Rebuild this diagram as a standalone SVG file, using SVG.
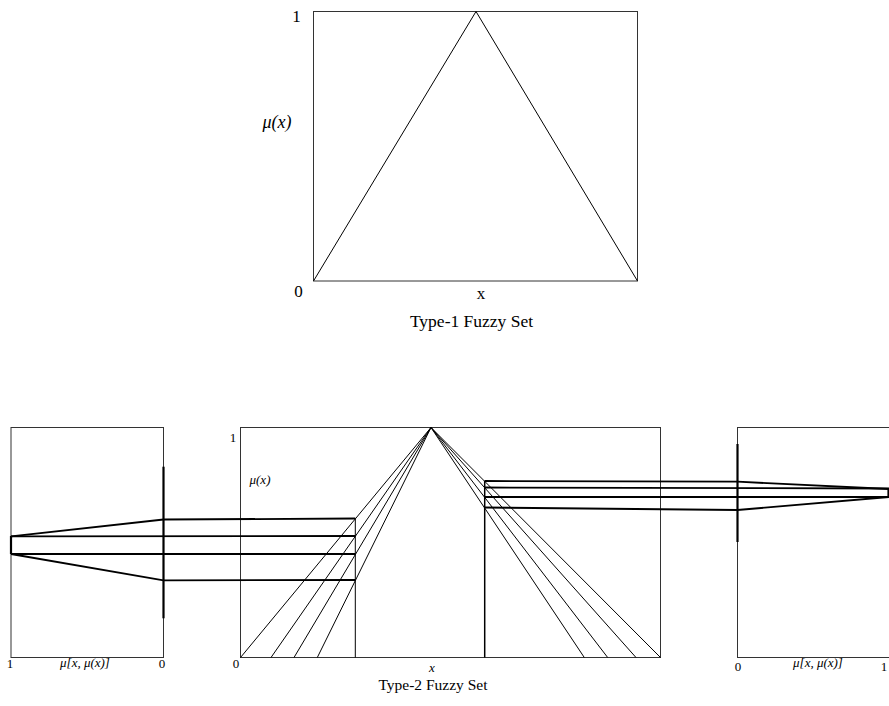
<svg xmlns="http://www.w3.org/2000/svg" width="889" height="706" viewBox="0 0 889 706">
<style>
.frame{fill:none;stroke:#333;stroke-width:1}
.thin{fill:none;stroke:#000;stroke-width:1}
.bold{fill:none;stroke:#000;stroke-width:1.8}
.tick{fill:none;stroke:#000;stroke-width:2.2}
text{font-family:"Liberation Serif","DejaVu Serif",serif;fill:#000}
.it{font-style:italic}
</style>
<rect width="889" height="706" fill="#fff"/>
<g id="type1">
<rect class="frame" x="313.5" y="11.5" width="324" height="269.5"/>
<polyline class="thin" points="313.5,281 476,11.5 637.5,281"/>
<text x="296.5" y="22" font-size="17" text-anchor="middle">1</text>
<text x="298.5" y="297" font-size="17" text-anchor="middle">0</text>
<text class="it" x="277" y="128" font-size="18" text-anchor="middle">μ(x)</text>
<text x="481" y="299" font-size="17" text-anchor="middle">x</text>
<text x="471.5" y="327" font-size="17.5" text-anchor="middle">Type-1 Fuzzy Set</text>
</g>
<g id="left-panel">
<rect class="frame" x="11" y="427.5" width="152.5" height="230"/>
<line class="tick" x1="163.5" y1="466.7" x2="163.5" y2="618.3"/>
<line class="tick" x1="11" y1="536" x2="11" y2="554"/>
<text x="10" y="668" font-size="13" text-anchor="middle">1</text>
<text class="it" x="85" y="667" font-size="13" text-anchor="middle">μ[x, μ(x)]</text>
<text x="162" y="668" font-size="13" text-anchor="middle">0</text>
</g>
<g id="middle-panel">
<rect class="frame" x="240.5" y="427.5" width="420" height="230"/>
<g class="thin">
<line x1="431" y1="427.5" x2="240.5" y2="657.5"/>
<line x1="431" y1="427.5" x2="271" y2="657.5"/>
<line x1="431" y1="427.5" x2="294" y2="657.5"/>
<line x1="431" y1="427.5" x2="317.3" y2="657.5"/>
<line x1="431" y1="427.5" x2="584.3" y2="657.5"/>
<line x1="431" y1="427.5" x2="607.7" y2="657.5"/>
<line x1="431" y1="427.5" x2="636" y2="657.5"/>
<line x1="431" y1="427.5" x2="660.5" y2="657.5"/>
<line x1="355.3" y1="518.5" x2="355.3" y2="657.5"/>
</g>
<line x1="484.7" y1="480.8" x2="484.7" y2="657.5" stroke="#000" stroke-width="1.5"/>
<text x="233" y="442" font-size="13" text-anchor="middle">1</text>
<text x="236" y="668" font-size="13" text-anchor="middle">0</text>
<text class="it" x="260" y="484" font-size="13" text-anchor="middle">μ(x)</text>
<text class="it" x="432" y="672" font-size="13" text-anchor="middle">x</text>
<text x="433" y="690" font-size="15.5" text-anchor="middle">Type-2 Fuzzy Set</text>
</g>
<g id="right-panel">
<rect class="frame" x="737.5" y="427.5" width="152" height="230"/>
<line class="tick" x1="737.5" y1="444" x2="737.5" y2="542"/>
<line class="tick" x1="888.5" y1="488.5" x2="888.5" y2="497"/>
<text x="738" y="671" font-size="13" text-anchor="middle">0</text>
<text class="it" x="818" y="667" font-size="13" text-anchor="middle">μ[x, μ(x)]</text>
<text x="884" y="671" font-size="13" text-anchor="middle">1</text>
</g>
<g id="connectors" class="bold">
<polyline points="355.3,518.5 163.5,519.5 11,536.3"/>
<line x1="355.3" y1="536" x2="11" y2="536.3"/>
<line x1="355.3" y1="554" x2="11" y2="554"/>
<polyline points="355.3,580 163.5,580.3 11,554"/>
<polyline points="484.7,481 737.5,481.7 889,489"/>
<line x1="484.7" y1="487.5" x2="889" y2="488.5"/>
<line x1="484.7" y1="497" x2="889" y2="497"/>
<polyline points="484.7,507.5 737.5,510 889,497"/>
</g>
</svg>
